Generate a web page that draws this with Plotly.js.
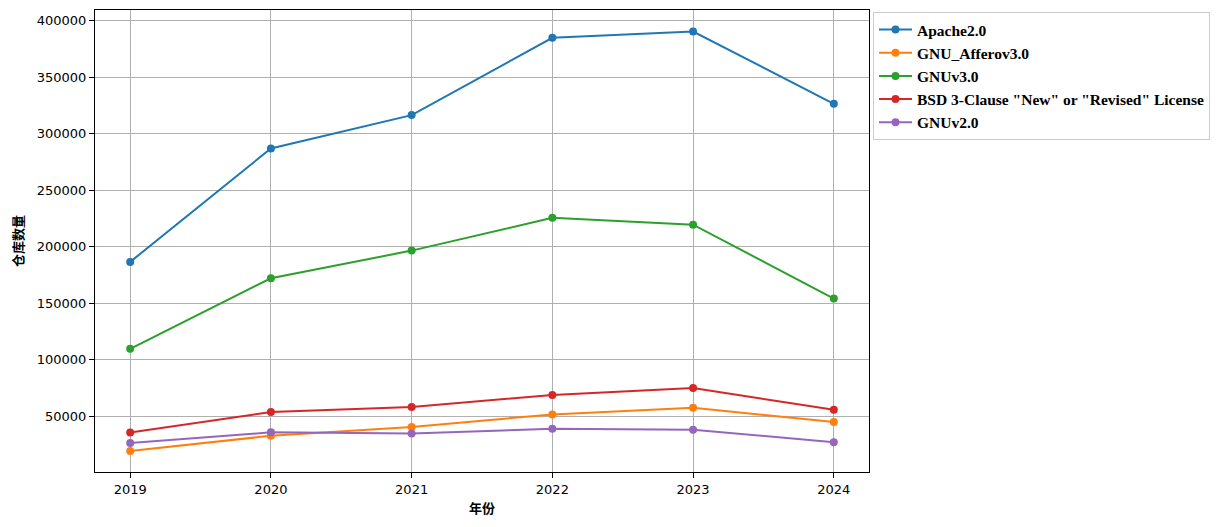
<!DOCTYPE html>
<html>
<head>
<meta charset="utf-8">
<script src="https://cdn.plot.ly/plotly-3.0.1.min.js"></script>
<style>html,body{margin:0;padding:0;background:#fff;}#chart{width:1220px;height:527px;}</style>
</head>
<body>
<div id="chart"></div>
<script>
const years = ["2019", "2020", "2021", "2022", "2023", "2024"];
const seriesNames = ["Apache2.0", "GNU_Afferov3.0", "GNUv3.0", "BSD 3-Clause \"New\" or \"Revised\" License", "GNUv2.0"];
const apache = [186500, 287000, 316500, 385000, 390500, 326500];
const afferov3 = [19000, 32500, 40300, 51400, 57200, 44700];
const gnuv3 = [109500, 172000, 196500, 225500, 219500, 154000];
const bsd3 = [35300, 53500, 58000, 68700, 74800, 55500];
const gnuv2 = [26000, 35500, 34600, 38600, 37800, 26800];
const yTicks = [50000, 100000, 150000, 200000, 250000, 300000, 350000, 400000];
const colors = ["#1f77b4", "#ff7f0e", "#2ca02c", "#d62728", "#9467bd"];

const allSeries = [apache, afferov3, gnuv3, bsd3, gnuv2];
const traces = allSeries.map((vals, i) => ({
  x: years.map((_, k) => k),
  y: vals,
  name: seriesNames[i],
  type: "scatter",
  mode: "lines+markers",
  line: {color: colors[i], width: 2},
  marker: {color: colors[i], size: 8}
}));

const layout = {
  width: 1220, height: 527,
  margin: {l: 95, r: 351, t: 10, b: 55, pad: 0},
  paper_bgcolor: "#fff", plot_bgcolor: "#fff",
  font: {family: "DejaVu Sans", size: 13, color: "#000"},
  xaxis: {
    range: [-0.25, 5.25],
    tickvals: years.map((_, k) => k),
    ticktext: years,
    showgrid: true, gridcolor: "#b0b0b0", gridwidth: 1,
    showline: true, linecolor: "#000", linewidth: 1, mirror: true,
    ticks: "outside", ticklen: 5, tickcolor: "#000",
    zeroline: false,
    title: {text: "年份", font: {family: "Noto Sans CJK SC", size: 13, weight: "bold"}, standoff: 8}
  },
  yaxis: {
    range: [400, 409600],
    tickvals: yTicks,
    ticktext: yTicks.map(String),
    showgrid: true, gridcolor: "#b0b0b0", gridwidth: 1,
    showline: true, linecolor: "#000", linewidth: 1, mirror: true,
    ticks: "outside", ticklen: 5, tickcolor: "#000",
    zeroline: false,
    title: {text: "仓库数量", font: {family: "Noto Sans CJK SC", size: 13, weight: "bold"}, standoff: 10}
  },
  legend: {
    xref: "container", yref: "container",
    x: 873 / 1220, y: 1 - 12 / 527, xanchor: "left", yanchor: "top",
    bordercolor: "#cccccc", borderwidth: 1, bgcolor: "#fff",
    font: {family: "Liberation Serif", size: 15.5, weight: "bold", color: "#000"},
    itemwidth: 33,
    tracegroupgap: 0
  },
  showlegend: true
};

Plotly.newPlot("chart", traces, layout, {displayModeBar: false, staticPlot: true});
</script>
</body>
</html>
